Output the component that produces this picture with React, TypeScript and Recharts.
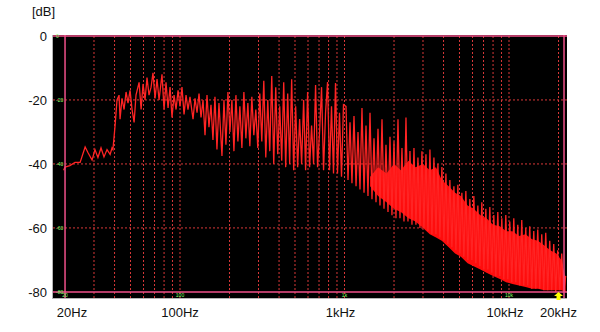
import { ComposedChart, Line, Area, XAxis, YAxis, ReferenceLine, ReferenceDot } from "recharts"

// spectrum trace, frequency in Hz and level in dB
const FREQS = [
  19.6, 20, 21.4, 23, 24.7, 26.5, 27.6, 29.2, 30.4, 31.7,
  33.1, 34.5, 36, 37.6, 38.6, 39.1, 40.3, 41.4, 42.6, 43.2,
  44.4, 45.7, 47, 48.3, 49.7, 51.1, 52.6, 54, 56.4, 58,
  59.6, 61.3, 63, 64.8, 66.7, 68.5, 70.5, 72.5, 74.6, 77.7,
  80, 82.2, 84.6, 87, 89.4, 92, 94.6, 97.3,
  100, 102.8, 105.8, 108.8, 111.8, 115, 120, 123.4, 126.9, 130.5,
  134.2, 138, 141.9, 145.9, 150, 154.3, 158.6, 163.1, 167.7, 172.5,
  179.9, 185, 190.2, 195.6, 201.1, 206.8, 212.7, 218.7, 224.9, 231.2,
  237.8, 244.5, 251.4, 258.5, 265.8, 273.3, 281, 289, 297.1, 305.5,
  314.2, 323.1, 332.2, 341.6, 351.3, 361.2, 371.4, 381.9, 392.7, 403.8,
  415.2, 427, 439, 451.5, 464.2, 477.3, 490.8, 504.7, 519, 533.6,
  548.7, 564.3, 580.2, 596.6, 613.5, 630.8, 648.7, 667, 685.9, 705.3,
  725.3, 745.8, 766.9, 788.6, 810.9, 833.8, 857.4, 881.7, 906.7, 932.3,
  958.7, 985.8,
  1021, 1050, 1080, 1110, 1142, 1175, 1208, 1242, 1277, 1314,
  1351, 1389, 1429, 1469, 1511, 1554, 1598, 1643, 1690, 1738,
  1787, 1838, 1890, 1943, 1999, 2055, 2114, 2174, 2235, 2299,
  2364, 2431, 2500, 2571, 2644, 2718, 2795, 2875, 2956, 3040,
  3126, 3215, 3306, 3399, 3496, 3595, 3697, 3801, 3909, 4020,
  4134, 4251, 4371, 4495, 4623, 4754, 4888, 5027, 5169, 5316,
  5466, 5621, 5781, 5945, 6113, 6286, 6465, 6648, 6836, 7030,
  7229, 7434, 7645, 7862, 8084, 8314, 8549, 8791, 9041, 9297,
  9561, 9832, 10110, 10397, 10692, 10995, 11307, 11627, 11957, 12296,
  12645, 13003, 13372, 13751, 14141, 14542, 14954, 15378, 15814, 16263,
  16724, 17198, 17686, 18187, 18703, 19233, 19779, 20340, 20917, 21510,
  22120,
]

const LEVELS = [
  -42, -41, -40.5, -39.5, -39.5, -34.7, -36.5, -38.8, -35.5, -38,
  -35, -37.8, -35.5, -37, -35, -35.5, -28, -20, -18.5, -26,
  -19.5, -23, -17.5, -21, -17, -23, -27, -18.5, -14.5, -23,
  -15, -20, -13, -18.5, -16, -11.5, -19.5, -13.5, -20, -12,
  -23, -14.5, -22.5, -16, -25.5, -18.5, -23, -17,
  -22, -16, -24.5, -18.5, -23, -19, -26, -19.5, -24, -18,
  -25.5, -20, -31, -18.5, -28.5, -21.5, -32.5, -19, -35.5, -21,
  -37.5, -20, -34, -17.5, -30, -20, -36, -18.5, -33, -22,
  -35, -17.5, -32, -21, -34.5, -19, -31, -23, -35, -18,
  -33, -14, -38, -20, -36, -12.5, -40, -16, -37, -22,
  -39, -14.5, -41, -18, -40, -13.5, -42, -22, -41, -26,
  -40, -20, -42, -17.5, -41, -28, -40, -15.3, -41, -30,
  -16, -42, -24, -14.4, -42, -22, -43, -14.7, -43, -24,
  -44, -21.5,
  -22, -45, -27, -46, -25, -47, -30, -48, -22.5, -49,
  -28, -50, -24, -51, -32, -52, -29, -53, -26, -54,
  -34, -55, -31.5, -56, -33, -57, -26, -57, -35, -58,
  -25.5, -58, -36, -59, -35, -59, -38, -60, -36, -60,
  -37, -61, -35.5, -62, -38, -62, -40, -63, -41, -64,
  -43, -65, -45, -66, -47, -67, -46.5, -68, -49, -69,
  -48.5, -70, -51, -70, -50, -71, -53, -72, -52, -73,
  -54, -73, -53.5, -74, -56, -75, -55, -75, -57, -76,
  -56, -76, -58, -77, -57, -77, -59, -78, -57.5, -78,
  -60, -78, -59.5, -79, -61, -79, -60.5, -79, -62, -79.5,
  -61.5, -79.5, -64, -79.5, -65, -80, -67, -79.5, -68, -80,
  -75,
]

// dense high frequency part, drawn as a filled band (bottom / top edge)
const BAND_FREQS = [
  1430, 1600, 1800, 2000, 2200, 2450, 2700, 3000, 3300, 3600,
  3900, 4300, 4700, 5100, 5600, 6100, 6700, 7300, 8000, 8800,
  9600, 10500, 11500, 12600, 13800, 15000, 16400, 17800, 19400, 20800,
  22100,
]
const BAND_TOP = [
  -44, -41, -43, -40, -42, -39, -41, -40, -42, -41,
  -45, -47, -49, -50, -53, -54, -56, -57, -59, -59.5,
  -61, -61, -62.5, -62, -63.5, -64, -65.5, -67, -68, -70,
  -76,
]
const BAND_BOTTOM = [
  -47, -50, -52, -54, -55, -57, -58, -60, -62, -63,
  -64, -66, -68, -69, -71, -72, -73, -74, -75, -76,
  -77, -77.5, -78, -78.5, -79, -79, -79.5, -79.5, -79.5, -79.5,
  -80,
]

const X_TICKS = [20, 100, 1000, 10000, 20000]
const X_TICK_LABELS = ["20Hz", "100Hz", "1kHz", "10kHz", "20kHz"]
const Y_TICKS = [0, -20, -40, -60, -80]

const GRID_FREQS = [
  30, 40, 50, 60, 70, 80, 90, 100, 200, 300, 400, 500, 600, 700, 800, 900,
  1000, 2000, 3000, 4000, 5000, 6000, 7000, 8000, 9000, 10000, 20000,
]
const GRID_LEVELS = [-20, -40, -60]
const SCALE_FREQS = [20, 100, 1000, 10000]
const SCALE_FREQ_LABELS = ["20", "100", "1k", "10k"]

const FONT = '"Liberation Sans", Arial, sans-serif'
const GREEN = "#7dff6a"
const FRAME = "#f0508a"
const GRID = "#d83838"
const TRACE_RED = "#ff2424"

function FreqTick({ x, y, payload }: any) {
  const i = X_TICKS.indexOf(payload.value)
  let nudge = 0
  if (payload.value === 20) nudge = 7
  if (payload.value === 1000 || payload.value === 10000) nudge = -4
  return (
    <text x={x + nudge} y={y + 19} textAnchor="middle" fontSize={13} fill="#111" fontFamily={FONT}>
      {X_TICK_LABELS[i]}
    </text>
  )
}

function Arrow({ cx, cy }: any) {
  const pts = [
    [cx, cy - 3], [cx + 4.5, cy + 1], [cx + 2, cy + 1], [cx + 2, cy + 5],
    [cx - 2, cy + 5], [cx - 2, cy + 1], [cx - 4.5, cy + 1],
  ].map((p) => p.join(",")).join(" ")
  return <polygon points={pts} fill="#ffff00" />
}

function greenLabel(value: string, position: string) {
  return { value, position, offset: position === "insideLeft" ? 3 : 1, fill: GREEN, fontSize: 5, fontFamily: FONT }
}

export default function App() {
  const trace = FREQS.map((f, i) => ({ f, db: LEVELS[i] }))
  const band = BAND_FREQS.map((f, i) => ({ f, range: [BAND_BOTTOM[i], BAND_TOP[i]] }))

  return (
    <div style={{ position: "absolute", left: 0, top: 0, width: 600, height: 332, background: "#fff", fontFamily: FONT }}>
      <div
        style={{
          position: "absolute", left: 52, top: 35, width: 514, height: 263,
          background: "#000", borderLeft: "1px solid #b5b5b5", borderBottom: "1px solid #b5b5b5",
        }}
      />
      <div style={{ position: "absolute", left: 32, top: 4, fontSize: 13, lineHeight: "15px", color: "#111" }}>[dB]</div>
      <div style={{ position: "absolute", left: 0, top: 0 }}>
        <ComposedChart width={600} height={332} margin={{ top: 35, right: 33, bottom: 4, left: 8 }}>
          <XAxis
            type="number"
            dataKey="f"
            scale="log"
            domain={[16.9, 22520]}
            allowDataOverflow
            ticks={X_TICKS}
            interval={0}
            height={30}
            axisLine={false}
            tickLine={false}
            tickSize={0}
            tickMargin={0}
            tick={FreqTick}
          />
          <YAxis
            type="number"
            domain={[-81.9, 0.3]}
            allowDataOverflow
            ticks={Y_TICKS}
            interval={0}
            width={45}
            axisLine={false}
            tickLine={false}
            tickSize={0}
            tickMargin={6}
            tick={{ fontSize: 13, fill: "#111", fontFamily: FONT }}
          />

          {GRID_FREQS.map((f) => {
            const idx = SCALE_FREQS.indexOf(f)
            return (
              <ReferenceLine
                key={"v" + f}
                x={f}
                stroke={GRID}
                strokeDasharray="2 2"
                zIndex={50}
                label={idx >= 0 ? greenLabel(SCALE_FREQ_LABELS[idx], "insideBottom") : undefined}
              />
            )
          })}
          {GRID_LEVELS.map((v) => (
            <ReferenceLine
              key={"h" + v}
              y={v}
              stroke={GRID}
              strokeDasharray="2 2"
              zIndex={50}
              label={greenLabel(String(v), "insideLeft")}
            />
          ))}

          <Area
            data={band}
            dataKey="range"
            type="linear"
            stroke="none"
            fill="#ff0d0d"
            fillOpacity={1}
            dot={false}
            activeDot={false}
            isAnimationActive={false}
          />
          <Line
            data={trace}
            dataKey="db"
            type="linear"
            stroke={TRACE_RED}
            strokeWidth={1.3}
            dot={false}
            activeDot={false}
            isAnimationActive={false}
          />

          <ReferenceLine x={20} stroke={FRAME} strokeWidth={1.5} zIndex={500} label={greenLabel("20", "insideBottom")} />
          <ReferenceLine x={21600} stroke={FRAME} strokeWidth={1.5} zIndex={500} />
          <ReferenceLine y={0} stroke={FRAME} strokeWidth={1.5} zIndex={500} label={greenLabel("0", "insideLeft")} />
          <ReferenceLine y={-80} stroke={FRAME} strokeWidth={1.5} zIndex={500} label={greenLabel("-80", "insideLeft")} />
          <ReferenceDot x={20000} y={-81} r={0} ifOverflow="visible" shape={Arrow} zIndex={600} />
        </ComposedChart>
      </div>
    </div>
  )
}
